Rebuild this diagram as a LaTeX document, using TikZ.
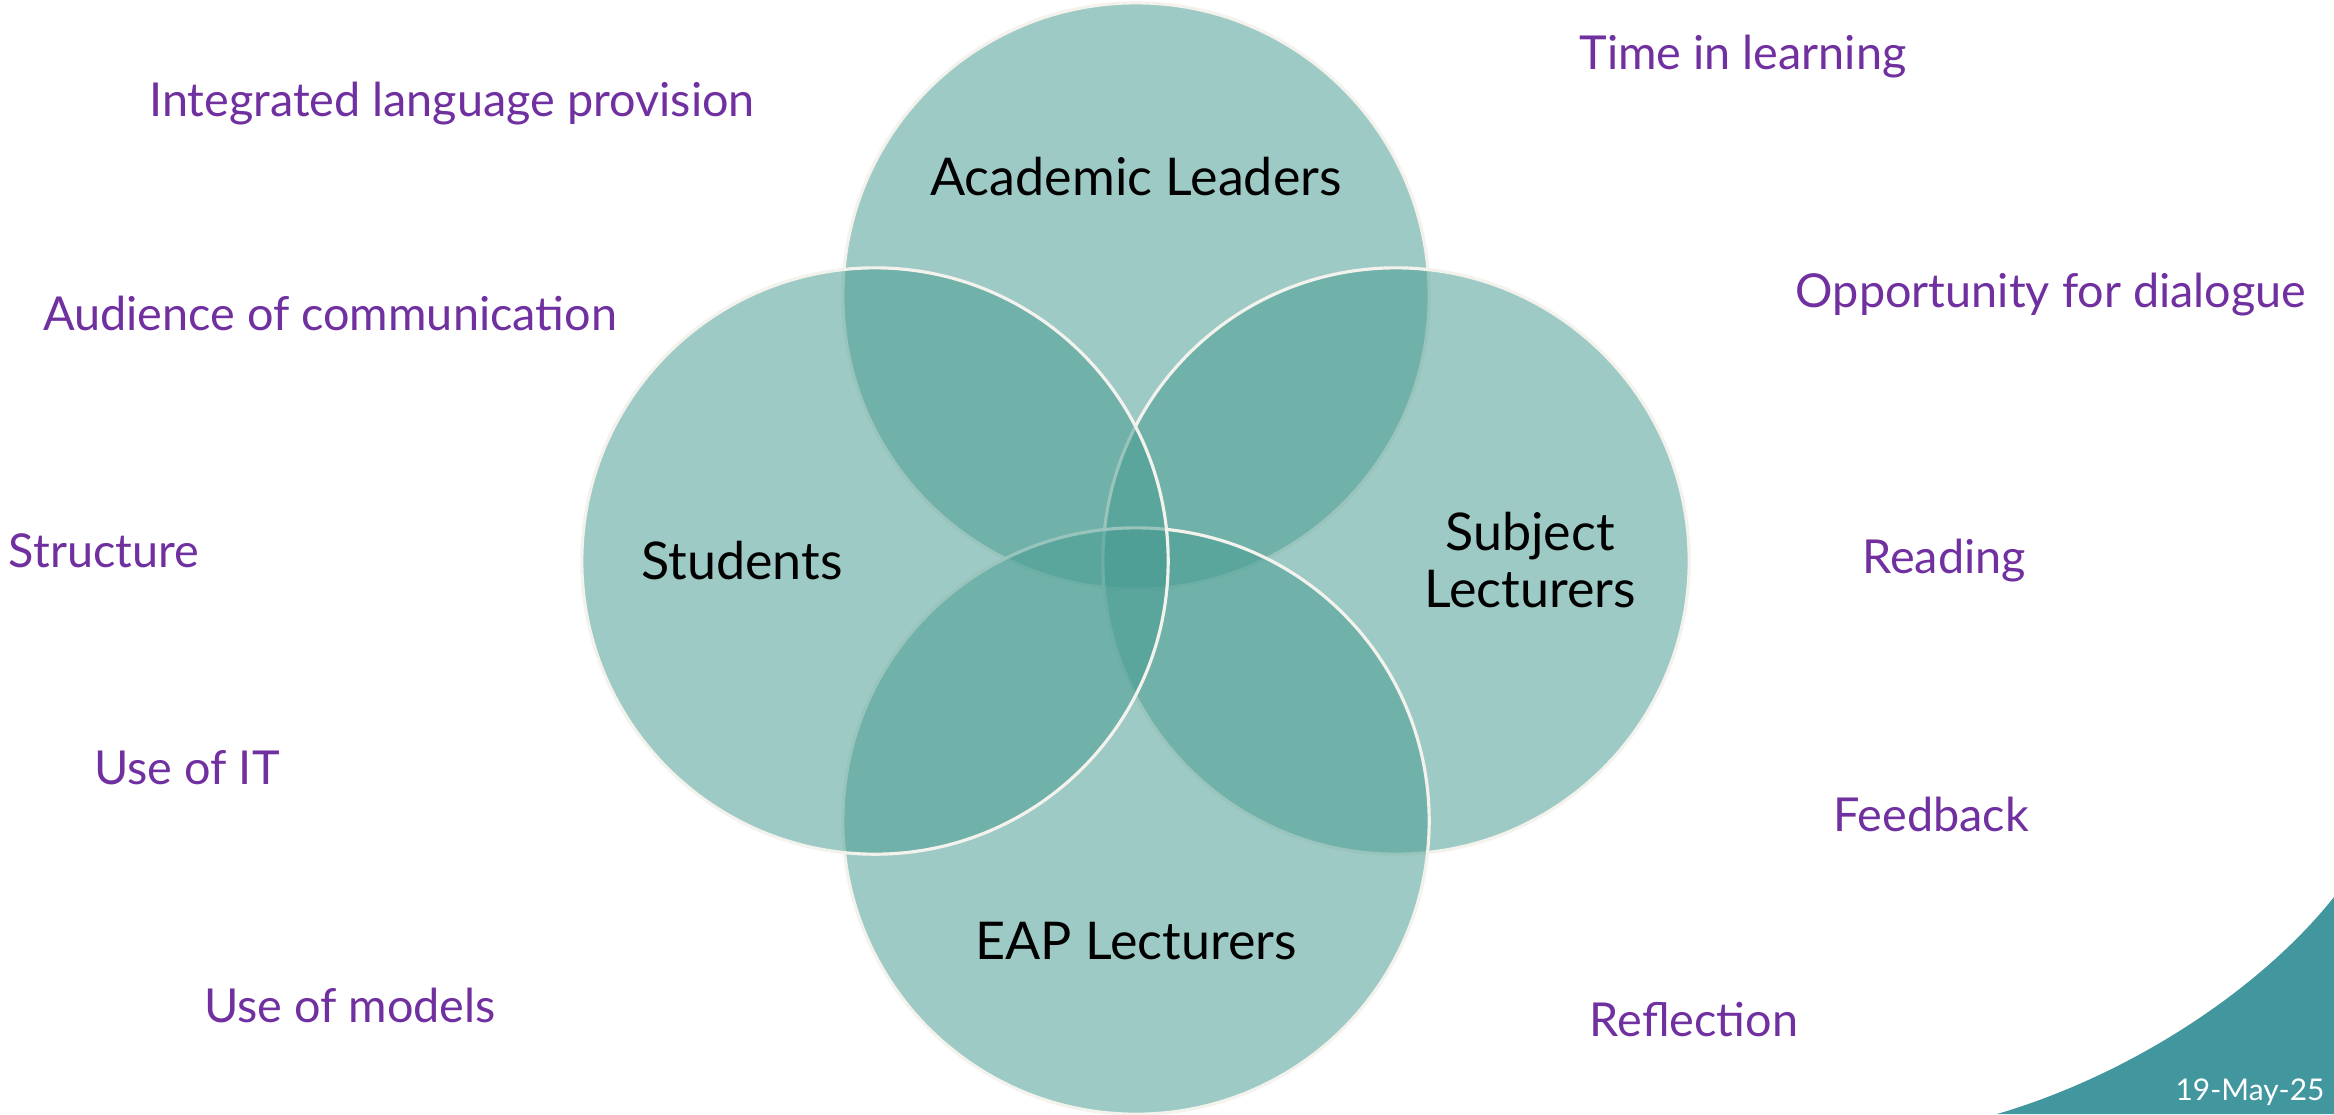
\documentclass[tikz,border=0pt]{standalone}
\usepackage{fontspec}
\setmainfont{Lato}
\usetikzlibrary{positioning}

\definecolor{vennteal}{HTML}{469B91}
\definecolor{ideapurple}{HTML}{7030A0}
\definecolor{cornerteal}{HTML}{42969E}
\definecolor{rimwhite}{HTML}{F4F2EC}

\begin{document}
\begin{tikzpicture}[x=0.01cm, y=-0.01cm, align=center,
  venn/.style={circle, minimum size=5.86cm, fill=vennteal, fill opacity=0.52,
    draw=rimwhite, draw opacity=1, line width=0.9pt},
  idea/.style={text=ideapurple, font=\fontsize{13.3}{16}\selectfont},
  group/.style={text=black, font=\fontsize{14.8}{16.3}\selectfont}]
\useasboundingbox[fill=white] (0,0) rectangle (2334,1114);

% corner band
\fill[cornerteal] (1997,1114) .. controls (2130,1075) and (2260,990) .. (2334,897) -- (2334,1114) -- cycle;
\node (date) [text=white, font=\fontsize{8.5}{10}\selectfont] at (2250,1092) {19-May-25};

% -------------------------------

\node (leaders) [venn] at (1136,296) {};
\node (subject) [venn] at (1396,561) {};
\node (eap) [venn] at (1136,821) {};
\node (students) [venn] at (875,561) {};

\node (leaderstext) [group] at (1136,177) {Academic Leaders};
\node (subjecttext) [group] at (1530,560) {Subject\\Lecturers};
\node (eaptext) [group] at (1136,941) {EAP Lecturers};
\node (studentstext) [group] at (742,561) {Students};

% -------------------------------

\node (integrated) [idea] at (452,104) {Integrated language provision};
\node (audience) [idea] at (330,313) {Audience of communication};
\node (structure) [idea] at (104,551) {Structure};
\node (useit) [idea] at (187,768) {Use of IT};
\node (models) [idea] at (350,1005) {Use of models};

\node (time) [idea] at (1743,57) {Time in learning};
\node (dialogue) [idea] at (2051,295) {Opportunity for dialogue};
\node (reading) [idea] at (1944,561) {Reading};
\node (feedback) [idea] at (1931,814) {Feedback};
\node (reflection) [idea] at (1694,1020) {Reflection};
\end{tikzpicture}
\end{document}
